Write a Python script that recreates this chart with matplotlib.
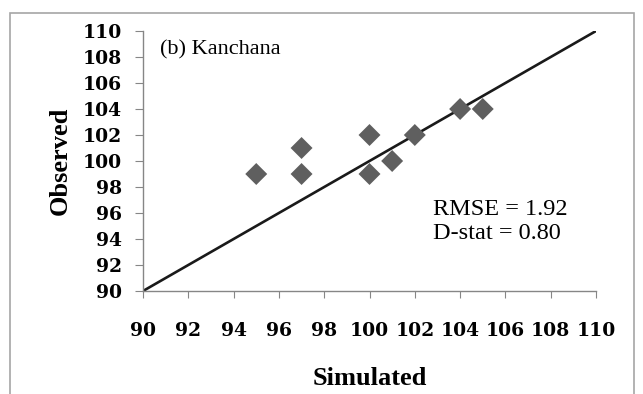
import matplotlib
matplotlib.use("Agg")
import matplotlib.pyplot as plt
from matplotlib.patches import Rectangle

simulated = [95, 97, 97, 100, 100, 101, 102, 104, 105]
observed = [99, 99, 101, 99, 102, 100, 102, 104, 104]
line_x = [90, 110]
line_y = [90, 110]
ticks = list(range(90, 111, 2))

W, H = 643, 394
fig = plt.figure(figsize=(W / 100, H / 100), dpi=100)

# outer frame
fig.patches.append(Rectangle((10 / W, -0.05), (634 - 10) / W, (H - 13) / H + 0.05,
                             transform=fig.transFigure, fill=False,
                             edgecolor="#a6a6a6", linewidth=1.2))

ax = fig.add_axes([143 / W, 1 - 291 / H, (596 - 143) / W, (291 - 31) / H])
ax.plot(line_x, line_y, color="#1a1a1a", linewidth=1.9, zorder=2)
ax.scatter(simulated, observed, marker="D", s=125, color="#5f5f5f",
           edgecolors="none", zorder=3)

ax.set_xlim(90, 110)
ax.set_ylim(90, 110)
ax.set_xticks(ticks)
ax.set_yticks(ticks)
tick_font = dict(family="DejaVu Serif", weight="bold", size=13.5)
ax.set_xticklabels([str(t) for t in ticks], fontdict=tick_font)
ax.set_yticklabels([str(t) for t in ticks], fontdict=tick_font)
ax.tick_params(axis="x", direction="out", length=5, color="#868686", pad=17)
ax.tick_params(axis="y", direction="out", length=6, color="#868686", pad=9)
for side in ("top", "right"):
    ax.spines[side].set_visible(False)
for side in ("left", "bottom"):
    ax.spines[side].set_color("#868686")
    ax.spines[side].set_linewidth(1.0)

label_font = dict(family="Liberation Serif", weight="bold", size=19)
ax.set_xlabel("Simulated", fontdict=label_font, labelpad=20)
ax.set_ylabel("Observed", fontdict=label_font, labelpad=8)

ax.text(90.75, 108.55, "(b) Kanchana", family="Liberation Serif", size=16,
        va="center", ha="left")
ax.text(102.8, 96.3, "RMSE = 1.92", family="Liberation Serif", size=17.5,
        va="center", ha="left")
ax.text(102.8, 94.45, "D-stat = 0.80", family="Liberation Serif", size=17.5,
        va="center", ha="left")

fig.savefig("out.png", dpi=100)
